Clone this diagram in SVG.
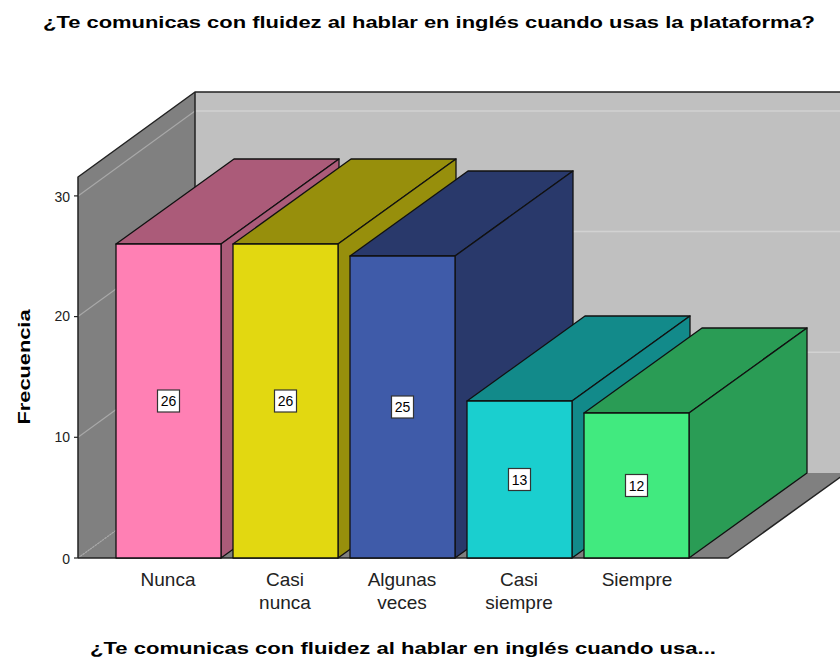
<svg xmlns="http://www.w3.org/2000/svg" width="840" height="658" viewBox="0 0 840 658">
<style>
text{font-family:"Liberation Sans",Arial,sans-serif;fill:#000}
.t{font-weight:bold;font-size:17px}
.cat{font-size:19px;text-anchor:middle;fill:#222}
.tick{font-size:14px;text-anchor:end;fill:#222}
.edge{stroke:#222;stroke-width:1.5;stroke-linejoin:round}
.bar{stroke:#111;stroke-width:1.3;stroke-linejoin:round}
.vl{fill:#fff;stroke:#333;stroke-width:1.2}
.vt{font-size:14px;text-anchor:middle}
</style>
<rect width="840" height="658" fill="#fff"/>
<g id="frame">
<polygon points="195,92 846,92 846,473 195,473" fill="#c0c0c0"/>
<polygon points="78,177 195,92 195,473 78,558" fill="#808080"/>
<polygon points="78,558 728,558 846,473 195,473" fill="#808080"/>
<g stroke="#d2d2d2" stroke-width="1.5">
<line x1="195" y1="352.3" x2="846" y2="352.3"/>
<line x1="195" y1="231.6" x2="846" y2="231.6"/>
<line x1="195" y1="110.9" x2="846" y2="110.9"/>
</g>
<g stroke="#a8a8a8" stroke-width="1.2">
<line x1="78" y1="437.3" x2="195" y2="352.3"/>
<line x1="78" y1="316.6" x2="195" y2="231.6"/>
<line x1="78" y1="195.9" x2="195" y2="110.9"/>
<line x1="78" y1="558" x2="195" y2="473" stroke-dasharray="2,1"/>
</g>
<polyline class="edge" fill="none" points="78,558 78,177 195,92 846,92"/>
<line class="edge" x1="195" y1="92" x2="195" y2="473"/>
<polyline class="edge" fill="none" points="78,558 728,558 846,473"/>
<g stroke="#222" stroke-width="1.2">
<line x1="74" y1="558" x2="78" y2="558"/>
<line x1="74" y1="437.3" x2="78" y2="437.3"/>
<line x1="74" y1="316.6" x2="78" y2="316.6"/>
<line x1="74" y1="195.9" x2="78" y2="195.9"/>
</g>
<text class="tick" x="70" y="564">0</text>
<text class="tick" x="70" y="442">10</text>
<text class="tick" x="70" y="321">20</text>
<text class="tick" x="70" y="202">30</text>
</g>
<g id="bar-nunca">
<polygon class="bar" fill="#ab5b79" points="116,244 221,244 339,159 234,159"/>
<polygon class="bar" fill="#ab5b79" points="221,244 339,159 339,473 221,558"/>
<rect class="bar" fill="#ff80b4" x="116" y="244" width="105" height="314"/>
<rect class="vl" x="157.5" y="390" width="22" height="22"/>
<text class="vt" x="168.5" y="406">26</text>
</g>
<g id="bar-casi-nunca">
<polygon class="bar" fill="#978f0c" points="233,244 338,244 456,159 351,159"/>
<polygon class="bar" fill="#978f0c" points="338,244 456,159 456,473 338,558"/>
<rect class="bar" fill="#e2d811" x="233" y="244" width="105" height="314"/>
<rect class="vl" x="274.5" y="390" width="22" height="22"/>
<text class="vt" x="285.5" y="406">26</text>
</g>
<g id="bar-algunas-veces">
<polygon class="bar" fill="#29396b" points="350,256 455,256 573,171 468,171"/>
<polygon class="bar" fill="#29396b" points="455,256 573,171 573,473 455,558"/>
<rect class="bar" fill="#3f5ba9" x="350" y="256" width="105" height="302"/>
<rect class="vl" x="391.5" y="396" width="22" height="22"/>
<text class="vt" x="402.5" y="412">25</text>
</g>
<g id="bar-casi-siempre">
<polygon class="bar" fill="#128a8a" points="467,401 572,401 690,316 585,316"/>
<polygon class="bar" fill="#128a8a" points="572,401 690,316 690,473 572,558"/>
<rect class="bar" fill="#1acfcf" x="467" y="401" width="105" height="157"/>
<rect class="vl" x="508.5" y="468.5" width="22" height="22"/>
<text class="vt" x="519.5" y="484.5">13</text>
</g>
<g id="bar-siempre">
<polygon class="bar" fill="#2a9c55" points="584,413 689,413 807,328 702,328"/>
<polygon class="bar" fill="#2a9c55" points="689,413 807,328 807,473 689,558"/>
<rect class="bar" fill="#41ea7f" x="584" y="413" width="105" height="145"/>
<rect class="vl" x="625.5" y="474.5" width="22" height="22"/>
<text class="vt" x="636.5" y="490.5">12</text>
</g>
<g id="labels">
<text class="cat" x="168" y="586">Nunca</text>
<text class="cat" x="285" y="586">Casi</text>
<text class="cat" x="285" y="609">nunca</text>
<text class="cat" x="402" y="586">Algunas</text>
<text class="cat" x="402" y="609">veces</text>
<text class="cat" x="519" y="586">Casi</text>
<text class="cat" x="519" y="609">siempre</text>
<text class="cat" x="637" y="586">Siempre</text>
</g>
<text class="t" x="43" y="28" textLength="772" lengthAdjust="spacingAndGlyphs">¿Te comunicas con fluidez al hablar en inglés cuando usas la plataforma?</text>
<text class="t" x="90" y="654" textLength="626" lengthAdjust="spacingAndGlyphs">¿Te comunicas con fluidez al hablar en inglés cuando usa...</text>
<text class="t" transform="translate(30,367) rotate(-90)" text-anchor="middle" font-size="20" textLength="115" lengthAdjust="spacingAndGlyphs">Frecuencia</text>
</svg>
